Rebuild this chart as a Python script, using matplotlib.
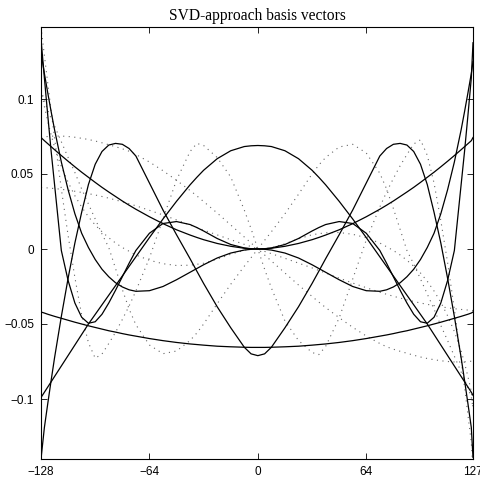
import matplotlib
matplotlib.use("Agg")
import matplotlib.pyplot as plt

# sample positions (n = -128 ... 127)
x = [-128, -126, -124, -122, -120, -116, -112, -108, -104, -100, -96, -92, -88, -84, -80, -76, -72,
     -64, -56, -48, -40, -36, -32, -24, -16, -8, -4, 0,
     4, 8, 16, 24, 32, 36, 40, 48, 56, 64, 72, 76, 80, 84, 88, 92, 96, 100, 104, 108, 112, 116,
     120, 122, 124, 126, 127]

# even basis vectors (solid)
s1 = [-0.0420, -0.0427, -0.0435, -0.0442, -0.0449, -0.0462, -0.0475, -0.0488, -0.0500, -0.0512, -0.0523,
      -0.0534, -0.0545, -0.0554, -0.0564, -0.0573, -0.0581, -0.0597, -0.0611, -0.0623, -0.0633, -0.0637,
      -0.0641, -0.0648, -0.0652, -0.0655, -0.0656, -0.0656,
      -0.0656, -0.0655, -0.0652, -0.0648, -0.0641, -0.0637, -0.0633, -0.0623, -0.0611, -0.0597, -0.0581,
      -0.0573, -0.0564, -0.0554, -0.0545, -0.0534, -0.0523, -0.0512, -0.0500, -0.0488, -0.0475, -0.0462,
      -0.0449, -0.0442, -0.0435, -0.0427, -0.0420]
s2 = [0.0743, 0.0722, 0.0702, 0.0682, 0.0662, 0.0623, 0.0585, 0.0548, 0.0512, 0.0478, 0.0444, 0.0411,
      0.0380, 0.0350, 0.0320, 0.0292, 0.0265, 0.0215, 0.0169, 0.0128, 0.0093, 0.0077, 0.0062, 0.0037,
      0.0018, 0.0005, 0.0001, 0.0000,
      0.0001, 0.0005, 0.0018, 0.0037, 0.0062, 0.0077, 0.0093, 0.0128, 0.0169, 0.0215, 0.0265, 0.0292,
      0.0320, 0.0350, 0.0380, 0.0411, 0.0444, 0.0478, 0.0512, 0.0548, 0.0585, 0.0623, 0.0662, 0.0682,
      0.0702, 0.0722, 0.0743]
s3 = [-0.0990, -0.0955, -0.0920, -0.0885, -0.0850, -0.0780, -0.0710, -0.0640, -0.0570, -0.0500, -0.0436,
      -0.0372, -0.0308, -0.0244, -0.0180, -0.0116, -0.0052, 0.0076, 0.0200, 0.0318, 0.0428, 0.0478,
      0.0525, 0.0602, 0.0655, 0.0683, 0.0688, 0.0690,
      0.0688, 0.0683, 0.0655, 0.0602, 0.0525, 0.0478, 0.0428, 0.0318, 0.0200, 0.0076, -0.0052, -0.0116,
      -0.0180, -0.0244, -0.0308, -0.0372, -0.0436, -0.0500, -0.0570, -0.0640, -0.0710, -0.0780, -0.0850,
      -0.0885, -0.0920, -0.0955, -0.0975]
s4 = [0.1400, 0.1140, 0.0890, 0.0650, 0.0430, -0.0010, -0.0210, -0.0360, -0.0455, -0.0495, -0.0485,
      -0.0435, -0.0360, -0.0275, -0.0185, -0.0095, -0.0010, 0.0105, 0.0170, 0.0183, 0.0163, 0.0143,
      0.0120, 0.0070, 0.0030, 0.0007, 0.0002, 0.0000,
      0.0002, 0.0007, 0.0030, 0.0070, 0.0120, 0.0143, 0.0163, 0.0183, 0.0170, 0.0105, -0.0010, -0.0095,
      -0.0185, -0.0275, -0.0360, -0.0435, -0.0485, -0.0495, -0.0455, -0.0360, -0.0210, -0.0010, 0.0430,
      0.0650, 0.0890, 0.1140, 0.1375]
s5 = [-0.1400, -0.1190, -0.1030, -0.0875, -0.0725, -0.0450, -0.0195, 0.0040, 0.0245, 0.0430, 0.0565,
      0.0650, 0.0693, 0.0704, 0.0698, 0.0670, 0.0620, 0.0440, 0.0260, 0.0095, -0.0065, -0.0148,
      -0.0230, -0.0385, -0.0525, -0.0655, -0.0699, -0.0711,
      -0.0699, -0.0655, -0.0525, -0.0385, -0.0230, -0.0148, -0.0065, 0.0095, 0.0260, 0.0440, 0.0620,
      0.0670, 0.0698, 0.0704, 0.0693, 0.0650, 0.0565, 0.0430, 0.0245, 0.0040, -0.0195, -0.0450, -0.0725,
      -0.0875, -0.1030, -0.1190, -0.1390]
s6 = [0.1310, 0.1170, 0.1040, 0.0915, 0.0795, 0.0580, 0.0395, 0.0235, 0.0105, 0.0010, -0.0070, -0.0135,
      -0.0185, -0.0225, -0.0253, -0.0272, -0.0282, -0.0278, -0.0250, -0.0205, -0.0155, -0.0130, -0.0105,
      -0.0060, -0.0027, -0.0007, -0.0002, 0.0000,
      -0.0002, -0.0007, -0.0027, -0.0060, -0.0105, -0.0130, -0.0155, -0.0205, -0.0250, -0.0278, -0.0282,
      -0.0272, -0.0253, -0.0225, -0.0185, -0.0135, -0.0070, 0.0010, 0.0105, 0.0235, 0.0395, 0.0580,
      0.0795, 0.0915, 0.1040, 0.1170, 0.1250]

# odd basis vectors (dotted)
d0 = [0.0410, 0.0409, 0.0407, 0.0405, 0.0403, 0.0398, 0.0392, 0.0385, 0.0377, 0.0369, 0.0360, 0.0350,
      0.0339, 0.0327, 0.0315, 0.0302, 0.0288, 0.0258, 0.0227, 0.0194, 0.0160, 0.0143, 0.0126, 0.0094,
      0.0062, 0.0031, 0.0016, 0.0000,
      -0.0016, -0.0031, -0.0062, -0.0094, -0.0126, -0.0143, -0.0160, -0.0194, -0.0227, -0.0258, -0.0288,
      -0.0302, -0.0315, -0.0327, -0.0339, -0.0350, -0.0360, -0.0369, -0.0377, -0.0385, -0.0392, -0.0398,
      -0.0403, -0.0405, -0.0407, -0.0409, -0.0410]
d1 = [0.0745, 0.0748, 0.0750, 0.0752, 0.0753, 0.0753, 0.0750, 0.0745, 0.0738, 0.0730, 0.0720, 0.0708,
      0.0695, 0.0682, 0.0668, 0.0652, 0.0630, 0.0580, 0.0522, 0.0458, 0.0390, 0.0354, 0.0316, 0.0240,
      0.0160, 0.0080, 0.0040, 0.0000,
      -0.0040, -0.0080, -0.0160, -0.0240, -0.0316, -0.0354, -0.0390, -0.0458, -0.0522, -0.0580, -0.0630,
      -0.0652, -0.0668, -0.0682, -0.0695, -0.0708, -0.0720, -0.0730, -0.0738, -0.0745, -0.0750, -0.0753,
      -0.0753, -0.0752, -0.0750, -0.0748, -0.0745]
d2 = [0.1060, 0.0990, 0.0925, 0.0870, 0.0820, 0.0715, 0.0610, 0.0510, 0.0400, 0.0300, 0.0200, 0.0100,
      0.0010, -0.0130, -0.0270, -0.0400, -0.0505, -0.0640, -0.0698, -0.0680, -0.0610, -0.0560, -0.0500,
      -0.0365, -0.0235, -0.0115, -0.0058, 0.0000,
      0.0058, 0.0115, 0.0235, 0.0365, 0.0500, 0.0560, 0.0610, 0.0680, 0.0698, 0.0640, 0.0505, 0.0400,
      0.0270, 0.0130, -0.0010, -0.0100, -0.0200, -0.0300, -0.0400, -0.0510, -0.0610, -0.0715, -0.0820,
      -0.0870, -0.0925, -0.0990, -0.1060]
d3 = [0.1480, 0.1290, 0.1105, 0.0920, 0.0740, 0.0400, 0.0090, -0.0190, -0.0440, -0.0625, -0.0728, -0.0700,
      -0.0630, -0.0555, -0.0470, -0.0380, -0.0280, -0.0060, 0.0200, 0.0460, 0.0650, 0.0704, 0.0690,
      0.0610, 0.0480, 0.0260, 0.0135, 0.0000,
      -0.0135, -0.0260, -0.0480, -0.0610, -0.0690, -0.0704, -0.0650, -0.0460, -0.0200, 0.0060, 0.0280,
      0.0380, 0.0470, 0.0555, 0.0630, 0.0700, 0.0728, 0.0625, 0.0440, 0.0190, -0.0090, -0.0400, -0.0740,
      -0.0920, -0.1105, -0.1290, -0.1480]
d4 = [0.1060, 0.0950, 0.0850, 0.0760, 0.0680, 0.0550, 0.0445, 0.0355, 0.0280, 0.0215, 0.0160, 0.0115,
      0.0075, 0.0040, 0.0010, -0.0015, -0.0040, -0.0075, -0.0098, -0.0110, -0.0108, -0.0102, -0.0095,
      -0.0068, -0.0035, -0.0008, -0.0002, 0.0000,
      0.0002, 0.0008, 0.0035, 0.0068, 0.0095, 0.0102, 0.0108, 0.0110, 0.0098, 0.0075, 0.0040, 0.0015,
      -0.0010, -0.0040, -0.0075, -0.0115, -0.0160, -0.0215, -0.0280, -0.0355, -0.0445, -0.0550, -0.0680,
      -0.0760, -0.0850, -0.0950, -0.1060]

solid_curves = [s1, s2, s3, s4, s5, s6]
dotted_curves = [d0, d1, d2, d3, d4]

xticks = [-128, -64, 0, 64, 127]
yticks = [-0.1, -0.05, 0, 0.05, 0.1]
ytick_labels = ["\u22120.1", "\u22120.05", "0", "0.05", "0.1"]
xtick_labels = ["\u2212128", "\u221264", "0", "64", "127"]

fig = plt.figure(figsize=(4.80, 4.83), dpi=100)
ax = fig.add_axes([41 / 480, 24 / 483, 432 / 480, 432 / 483])

for ys in dotted_curves:
    ax.plot(x, ys, color="0.4", linewidth=0.8, linestyle=(0, (1, 4)))
for ys in solid_curves:
    ax.plot(x, ys, color="black", linewidth=0.9)

ax.set_xlim(-128, 127)
ax.set_ylim(-0.1400, 0.1480)
ax.set_xticks(xticks)
ax.set_xticklabels(xtick_labels)
ax.set_yticks(yticks)
ax.set_yticklabels(ytick_labels)
ax.tick_params(direction="in", length=4, width=0.6, top=True, right=True,
               labelsize=8.5, pad=5)
for lab in ax.get_xticklabels() + ax.get_yticklabels():
    lab.set_fontfamily("Liberation Sans")
for sp in ax.spines.values():
    sp.set_linewidth(0.8)

ax.set_title("SVD-approach basis vectors", fontsize=11.2, family="Liberation Serif", pad=5)

fig.savefig("out.png", dpi=100)
